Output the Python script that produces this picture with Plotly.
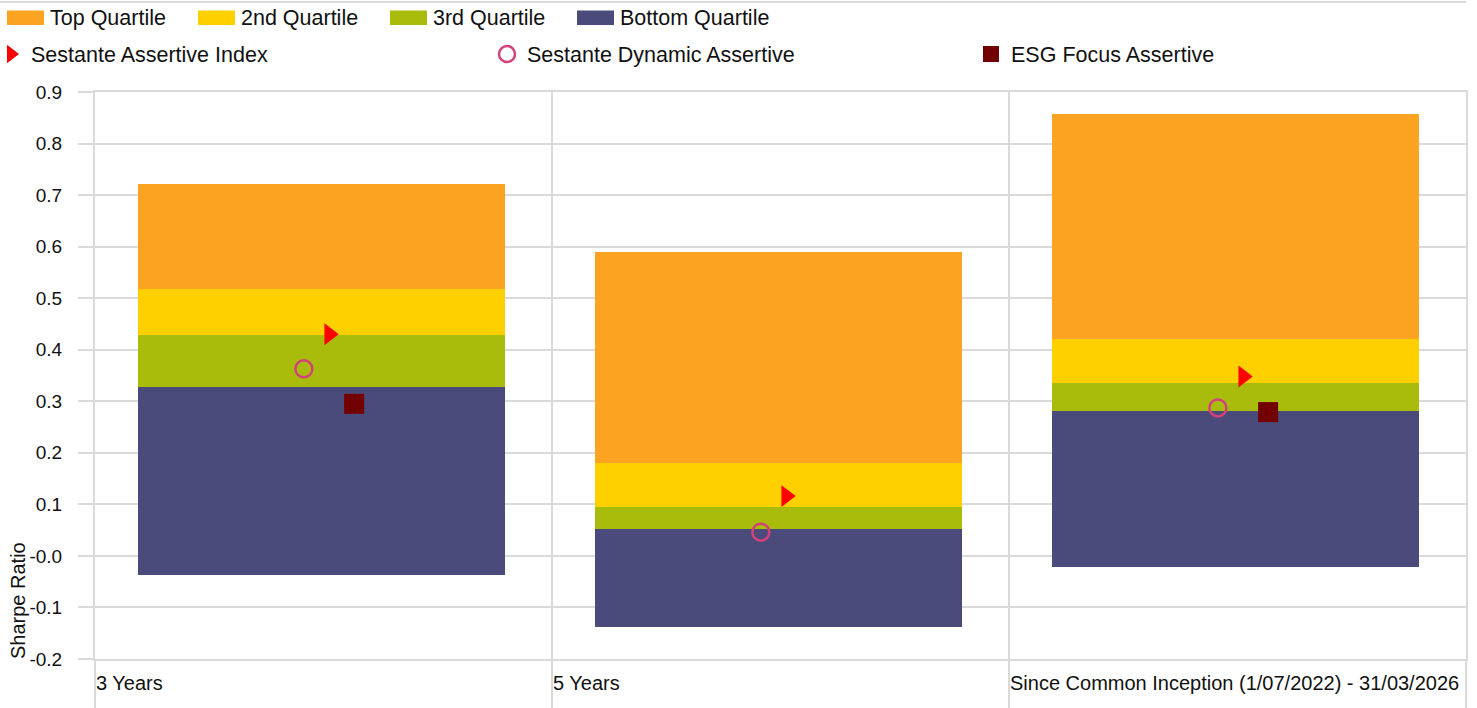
import plotly.graph_objects as go

# ---------------- data ----------------
categories = ["3 Years", "5 Years", "Since Common Inception (1/07/2022) - 31/03/2026"]

# quartile boundaries of the peer universe (Sharpe ratio)
q_min = [-0.037, -0.138, -0.022]
q_25 = [0.328, 0.052, 0.281]
q_50 = [0.428, 0.095, 0.335]
q_75 = [0.518, 0.180, 0.421]
q_max = [0.721, 0.590, 0.857]

assertive_index = [0.430, 0.116, 0.348]
dynamic_assertive = [0.363, 0.046, 0.287]
esg_focus = [0.295, None, 0.279]

quartile_names = ["Top Quartile", "2nd Quartile", "3rd Quartile", "Bottom Quartile"]
marker_names = ["Sestante Assertive Index", "Sestante Dynamic Assertive", "ESG Focus Assertive"]

y_tick_vals = [0.9, 0.8, 0.7, 0.6, 0.5, 0.4, 0.3, 0.2, 0.1, 0.0, -0.1, -0.2]
y_tick_text = ["0.9", "0.8", "0.7", "0.6", "0.5", "0.4", "0.3", "0.2", "0.1", "-0.0", "-0.1", "-0.2"]
y_title = "Sharpe Ratio"

# ---------------- styling ----------------
W, H = 1477, 708
ML, MR, MT, MB = 95, 11, 92, 49
PW, PH = W - ML - MR, H - MT - MB
FONT = "Liberation Sans, Arial, sans-serif"
GRID = "#dadada"
quartile_colors = ["#fca422", "#fed000", "#a9bc0b", "#4a4b7a"]

def px_x(p):
    return (p - ML) / PW

def px_y(p):
    return (H - MB - p) / PH

centers = [i + 0.496 for i in range(len(categories))]

fig = go.Figure()

lows = [q_75, q_50, q_25, q_min]
highs = [q_max, q_75, q_50, q_25]
for name, col, lo, hi in zip(quartile_names, quartile_colors, lows, highs):
    fig.add_trace(go.Bar(
        x=centers, y=[h - l for h, l in zip(hi, lo)], base=lo,
        width=0.803, name=name, marker=dict(color=col, line=dict(width=0)),
        showlegend=False, hoverinfo="skip",
    ))

fig.add_trace(go.Scatter(
    x=[c + 0.0165 for c in centers], y=assertive_index, mode="markers",
    name=marker_names[0], legend="legend",
    marker=dict(symbol="triangle-right", size=19, color="#ff0000", line=dict(width=0)),
))
fig.add_trace(go.Scatter(
    x=[c - 0.039 for c in centers], y=dynamic_assertive, mode="markers",
    name=marker_names[1], legend="legend2",
    marker=dict(symbol="circle-open", size=17, color="#d4407a", line=dict(width=2.5, color="#d4407a")),
))
fig.add_trace(go.Scatter(
    x=[c + 0.071 for c in centers], y=esg_focus, mode="markers",
    name=marker_names[2], legend="legend3",
    marker=dict(symbol="square", size=20, color="#730000", line=dict(width=0)),
))

shapes = []
annotations = []

# top separator line
shapes.append(dict(type="line", xref="paper", yref="paper",
                   x0=px_x(0), x1=1, y0=px_y(2), y1=px_y(2),
                   line=dict(color=GRID, width=2)))

# quartile legend row (swatches + labels)
legend_x = [7, 198, 390, 577]
for nm, col, lx in zip(quartile_names, quartile_colors, legend_x):
    shapes.append(dict(type="rect", xref="paper", yref="paper",
                       x0=px_x(lx), x1=px_x(lx + 37), y0=px_y(25), y1=px_y(10.5),
                       fillcolor=col, line=dict(width=0)))
    annotations.append(dict(text=nm, xref="paper", yref="paper",
                            x=px_x(lx + 41), y=px_y(18), xanchor="left", yanchor="middle",
                            showarrow=False, font=dict(family=FONT, size=21.5, color="#111")))

# category labels, left aligned at category boundaries
for i, cat in enumerate(categories):
    annotations.append(dict(text=cat, xref="x", yref="paper", x=i, y=px_y(683),
                            xanchor="left", yanchor="middle", xshift=-1, showarrow=False,
                            font=dict(family=FONT, size=20, color="#111")))

# y axis title
annotations.append(dict(text=y_title, xref="paper", yref="paper", x=px_x(18), y=px_y(601),
                        xanchor="center", yanchor="middle", textangle=-90, showarrow=False,
                        font=dict(family=FONT, size=20, color="#111")))

def marker_legend(px_left):
    return dict(orientation="h", x=px_x(px_left), xanchor="left", y=px_y(54), yanchor="middle",
                font=dict(family=FONT, size=21.5, color="#111"), indentation=-9,
                bgcolor="rgba(0,0,0,0)", borderwidth=0, itemclick=False, itemdoubleclick=False)

fig.update_layout(
    width=W, height=H,
    margin=dict(l=ML, r=MR, t=MT, b=MB, autoexpand=False),
    paper_bgcolor="white", plot_bgcolor="white",
    barmode="overlay", bargap=0,
    font=dict(family=FONT, size=19, color="#111"),
    showlegend=True,
    legend=marker_legend(0),
    legend2=marker_legend(496),
    legend3=marker_legend(980),
    xaxis=dict(range=[0, 3], tickvals=[0, 1, 2, 3], showticklabels=False,
               showgrid=True, gridcolor=GRID, gridwidth=2, zeroline=False,
               ticks="outside", ticklen=49, tickcolor=GRID, tickwidth=2,
               showline=True, linecolor=GRID, linewidth=2, mirror=True, fixedrange=True),
    yaxis=dict(range=[-0.2, 0.9], tickvals=y_tick_vals, ticktext=y_tick_text,
               showgrid=True, gridcolor=GRID, gridwidth=2, zeroline=False,
               ticks="outside", ticklen=15, tickcolor=GRID, tickwidth=2,
               ticklabelstandoff=12, showline=True, linecolor=GRID, linewidth=2, mirror=True,
               tickfont=dict(family=FONT, size=19, color="#111"), fixedrange=True),
    shapes=shapes, annotations=annotations,
)

fig.write_html("out.html", config={"displayModeBar": False},
               post_script="document.body.style.margin='0';document.body.style.overflow='hidden';")
